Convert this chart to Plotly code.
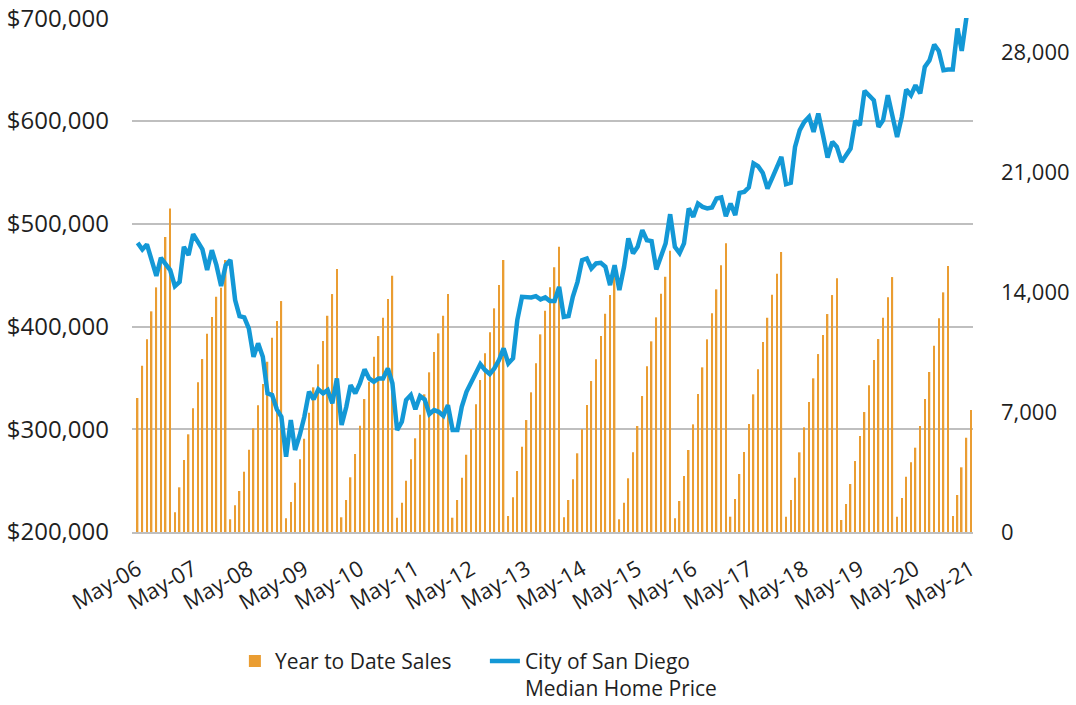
import pandas as pd
import plotly.graph_objects as go

# Monthly dates May-2006 .. May-2021
months = pd.date_range("2006-05-01", "2021-05-01", freq="MS")

# Year to Date Sales (right axis)
ytd_2006 = [7817, 9700, 11240, 12874, 14274, 15692, 17208, 18882]
ytd_2007 = [1149, 2607, 4200, 5699, 7216, 8732, 10092, 11567, 12542, 13726, 14250, 15867]
ytd_2008 = [741, 1557, 2392, 3517, 4801, 6049, 7391, 8633, 9934, 11334, 12308, 13475]
ytd_2009 = [799, 1750, 2876, 4241, 5442, 6959, 8441, 9782, 11141, 12617, 13883, 15342]
ytd_2010 = [858, 1867, 3191, 4550, 6201, 7758, 8767, 10226, 11433, 12500, 13591, 14951]
ytd_2011 = [834, 1709, 2993, 4241, 5466, 6843, 8033, 9316, 10500, 11590, 12617, 13883]
ytd_2012 = [834, 1867, 3168, 4509, 6008, 7449, 8867, 10424, 11649, 13049, 14408, 15867]
ytd_2013 = [933, 2024, 3558, 4976, 6533, 8149, 9841, 11532, 12909, 14274, 15441, 16642]
ytd_2014 = [858, 1867, 3074, 4591, 5991, 7408, 8808, 10074, 11433, 12734, 13824, 14892]
ytd_2015 = [741, 1711, 3133, 4650, 6183, 7933, 9666, 11124, 12524, 13899, 14892, 16409]
ytd_2016 = [799, 1808, 3266, 4783, 6281, 8049, 9606, 11241, 12757, 14157, 15557, 16841]
ytd_2017 = [893, 1925, 3383, 4666, 6300, 8032, 9491, 11083, 12501, 13843, 15068, 16333]
ytd_2018 = [893, 1867, 3168, 4648, 6107, 7583, 8966, 10383, 11491, 12717, 13825, 14799]
ytd_2019 = [700, 1633, 2800, 4141, 5600, 7000, 8558, 10033, 11258, 12501, 13691, 14875]
ytd_2020 = [894, 1983, 3226, 4066, 4920, 6186, 7761, 9336, 10870, 12465, 13982, 15517]
ytd_2021 = [933, 2158, 3774, 5501, 7117]

# City of San Diego Median Home Price (left axis)
price_2006 = [481400, 475000, 479900, 464600, 449300, 466800, 461400, 454900]
price_2007 = [439300, 443500, 477500, 469500, 489900, 481400, 475000, 454900, 474300, 459700, 439300, 459700]
price_2008 = [464600, 425700, 410100, 408900, 398200, 370500, 383600, 370500, 334900, 333300, 319400, 312200]
price_2009 = [273200, 309000, 279800, 294400, 312200, 336500, 329100, 338800, 334900, 338100, 325200, 349500]
price_2010 = [304100, 321900, 343000, 334900, 344700, 358300, 349500, 346200, 349500, 349500, 359200, 344700]
price_2011 = [299200, 307300, 328400, 333300, 319400, 332300, 329100, 314800, 318700, 317000, 313100, 323500]
price_2012 = [299200, 299200, 321900, 336500, 344700, 354400, 363400, 357600, 353700, 359200, 367300, 378700]
price_2013 = [364100, 369000, 406200, 428900, 428900, 428300, 429600, 426400, 428300, 424700, 424700, 438600]
price_2014 = [409400, 410100, 428900, 443500, 464600, 466200, 456500, 461400, 462000, 458100, 440300, 459700]
price_2015 = [435400, 458100, 485700, 471100, 477500, 493800, 484000, 483100, 455500, 467800, 480800, 509300]
price_2016 = [477500, 471400, 480800, 514900, 506700, 519700, 516400, 514900, 515900, 524600, 525600, 507400]
price_2017 = [519700, 508400, 530100, 531000, 535300, 558700, 556000, 549500, 534300, 544100, 555400, 565100]
price_2018 = [538500, 539800, 574800, 591100, 599100, 604000, 589400, 607300, 586200, 564500, 579700, 574800]
price_2019 = [560200, 566700, 573200, 600100, 595900, 629300, 625100, 620200, 594300, 600800, 625100, 607300]
price_2020 = [584500, 604000, 630600, 625100, 634800, 626800, 652600, 659100, 674400, 668200, 649400, 650100]
price_2021 = [650100, 690000, 668200, 701000, 715000]

ytd_sales = (ytd_2006 + ytd_2007 + ytd_2008 + ytd_2009 + ytd_2010 + ytd_2011 + ytd_2012
             + ytd_2013 + ytd_2014 + ytd_2015 + ytd_2016 + ytd_2017 + ytd_2018 + ytd_2019
             + ytd_2020 + ytd_2021)
median_price = (price_2006 + price_2007 + price_2008 + price_2009 + price_2010 + price_2011
                + price_2012 + price_2013 + price_2014 + price_2015 + price_2016 + price_2017
                + price_2018 + price_2019 + price_2020 + price_2021)

left_ticks = [200000, 300000, 400000, 500000, 600000, 700000]
right_ticks = [0, 7000, 14000, 21000, 28000]
x_ticks = pd.date_range("2006-05-01", "2021-05-01", freq="12MS")

FONT = "Open Sans"
TXT = "#1f1f1f"
GRID = "#BFBFBF"

fig = go.Figure()
fig.add_trace(go.Bar(
    x=months, y=ytd_sales, name="Year to Date Sales",
    marker=dict(color="#EA9D32", line=dict(width=0)),
    width=10 * 86400000, yaxis="y",
))
fig.add_trace(go.Scatter(
    x=months, y=median_price, name="City of San Diego<br>Median Home Price",
    mode="lines", line=dict(color="#1398D6", width=4.5), yaxis="y2",
))

fig.update_layout(
    width=1076, height=705,
    margin=dict(l=132, r=103, t=18, b=173, autoexpand=False),
    paper_bgcolor="white", plot_bgcolor="white",
    font=dict(family=FONT, size=21, color=TXT),
    showlegend=True,
    legend=dict(orientation="h", xref="container", yref="container",
                x=0.2183, xanchor="left", y=0.091, yanchor="top",
                valign="top", font=dict(size=21, color=TXT), itemwidth=30,
                entrywidth=205, traceorder="normal"),
    xaxis=dict(type="date", range=["2006-03-25", "2021-05-14"], automargin=False,
               tickvals=list(x_ticks), tickformat="%b-%y", tickangle=-30,
               showgrid=False, showline=True, linecolor=GRID, linewidth=2,
               ticks="", ticklabelstandoff=14, tickfont=dict(size=22)),
    yaxis=dict(side="right", range=[0, 29990], tickvals=right_ticks, automargin=False,
               tickformat=",", showgrid=False, zeroline=False, ticklabeloverflow="allow",
               ticklabelstandoff=27, tickfont=dict(size=22)),
    yaxis2=dict(overlaying="y", side="left", range=[200000, 700250], tickvals=left_ticks,
                automargin=False, tickformat="$,.0f", showgrid=True, gridcolor=GRID,
                gridwidth=2, zeroline=False, ticklabeloverflow="allow",
                ticklabelstandoff=22, tickfont=dict(size=24)),
    bargap=0.5,
)

# Remove the default 8px page margin so the figure sits at the window's corner.
fig.write_html("out.html", config={"displayModeBar": False},
               post_script="document.body.style.margin='0';document.body.style.overflow='hidden';")
